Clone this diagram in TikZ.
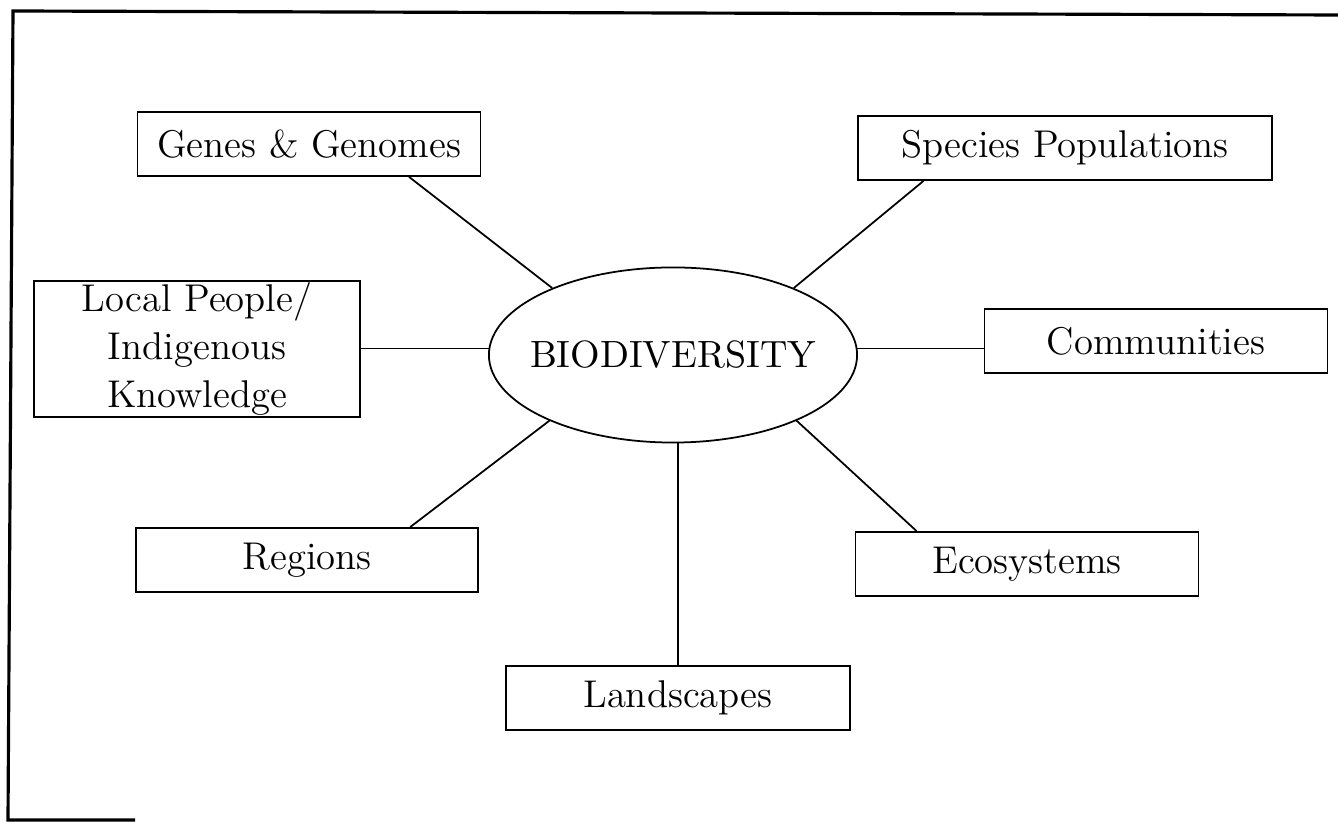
\documentclass[tikz,border=0pt]{standalone}
\usetikzlibrary{shapes.geometric, calc}
\tikzset{box/.style={draw=black, minimum width=#1, minimum height=0.64cm, inner sep=0pt, font=\fontsize{11}{13.6}\selectfont},
%default width of a box is 3.43cm
box/.default={3.43cm},
frame/.style={line width=0.9pt}}

\begin{document}
\begin{tikzpicture}[x=0.01cm, y=-0.01cm, line width=0.5pt]
    \useasboundingbox (0,0) rectangle (1338,822);
    \draw[frame] (1338,15) -- (13,11) -- (8,820) -- (135,820);
    \node[ellipse, draw, minimum width=3.68cm, minimum height=1.75cm, inner xsep=-0.14cm, inner ysep=0pt, font=\fontsize{10.8}{13}\selectfont] (bio) at (673,355) {BIODIVERSITY};
    \node[box] (genes) at (309,144) {Genes \& Genomes};
    \node[box=4.14cm] (species) at (1065,148) {Species Populations};
    \node[box=3.26cm, minimum height=1.36cm, align=center] (local) at (197,349) {Local People/\\Indigenous\\Knowledge};
    \node[box] (comm) at (1156,341) {Communities};
    \node[box=3.42cm] (regions) at (307,560) {Regions};
    \node[box] (eco) at (1027,564) {Ecosystems};
    \node[box=3.44cm] (land) at (678,698) {Landscapes};
    \draw (bio.151) -- ($(genes.south west)!0.79!(genes.south east)$);
    \draw (bio.29) -- ($(species.south west)!0.16!(species.south east)$);
    \draw (bio.178) -- (bio.178 -| local.east);
    \draw (bio.2) -- (bio.2 -| comm.west);
    \draw (bio.208) -- ($(regions.north west)!0.8!(regions.north east)$);
    \draw (bio.332) -- ($(eco.north west)!0.18!(eco.north east)$);
    \draw (land.north) -- (land.north |- bio.south);
\end{tikzpicture}
\end{document}
